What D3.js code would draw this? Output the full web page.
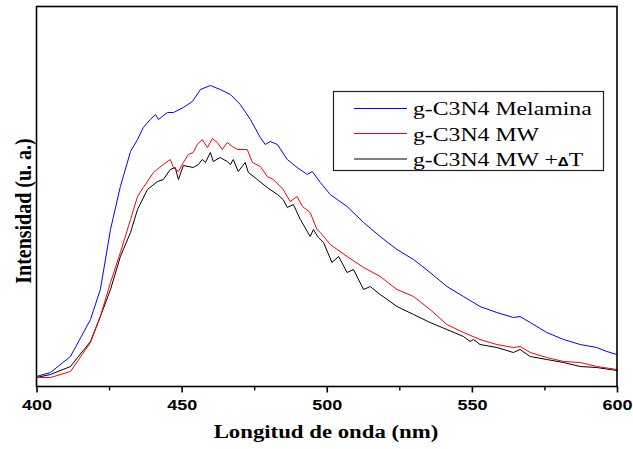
<!DOCTYPE html>
<html><head><meta charset="utf-8">
<script src="https://cdn.jsdelivr.net/npm/d3@7/dist/d3.min.js"></script>
<style>body{margin:0;background:#fff}svg{display:block}</style>
</head><body><svg id="c" width="633" height="449"></svg>
<script>
const seriesNames = ["g-C3N4 Melamina", "g-C3N4 MW", "g-C3N4 MW +"];
const seriesColors = ["#0000ff", "#ff0000", "#000000"];
const xTicks = [400, 450, 500, 550, 600];
const xMinorTicks = [425, 475, 525, 575];

const wlMelamina = [400,404.8,411.7,418.6,422.0,425.5,428.9,432.4,434.8,436.8,439.2,441.0,442.0,445.1,447.2,450.6,453.7,456.5,459.9,463.3,466.8,470.2,473.7,477.1,478.8,480.5,483.0,486.4,489.8,493.3,495.0,497.8,501.2,507.0,512.7,518.4,524.2,529.9,535.6,541.4,547.1,552.8,558.6,564.3,566.6,570.1,575.8,581.6,587.3,593.0,596.5,600];
const intMelamina = [10,14,30,67,97,157,200,235,247,259,267,272,267,274,274,279,285,297,301,297,292,282,267,249,242,245,242,227,219,212,215,204,192,180,164,150,137,127,114,100,90,80,74,69,70,64,54,47,42,39,35,32];

const wlMW = [400,404.8,411.7,418.6,422.0,425.5,428.9,432.4,434.8,436.8,440.3,443.7,446.1,447.2,448.9,450.6,452.3,454.0,455.4,457.1,458.9,460.6,462.3,464.0,465.7,467.5,469.2,472.6,474.4,477.1,479.5,481.6,485.0,487.4,489.8,491.6,494.3,496.6,497.8,501.2,507.0,512.7,518.4,524.2,529.9,535.6,541.4,547.1,552.8,558.6,564.3,566.6,570.1,575.8,581.6,587.3,593.0,600];
const intMW = [9,9,15,44,70,104,134,167,190,199,214,222,227,219,215,224,232,234,242,247,239,248,244,237,244,240,237,237,224,220,210,207,197,185,190,180,174,157,154,142,130,119,110,97,90,77,62,54,47,42,39,40,34,29,25,24,20,17];

const wlMWT = [400,404.8,411.7,418.6,422.0,425.5,428.9,432.4,434.8,438.2,441.7,443.7,446.1,447.8,448.9,450.6,454.0,455.8,457.1,458.2,459.9,460.9,463.3,465.7,466.8,467.8,469.5,471.9,473.0,476.1,479.5,483.0,485.0,486.4,488.5,490.9,494.3,495.4,497.1,498.9,501.8,504.1,507.0,509.2,512.7,515.0,518.4,524.2,529.9,535.6,541.4,547.1,549.4,550.6,552.8,558.6,564.3,566.6,570.1,575.8,581.6,587.3,593.0,600];
const intMWT = [9,12,20,45,70,97,130,154,177,197,205,207,217,219,207,221,219,222,227,224,234,225,229,225,222,227,215,224,214,207,199,192,187,179,182,167,150,157,149,144,124,130,114,117,97,100,92,80,72,64,57,50,45,47,42,39,34,37,30,27,24,20,19,16];

const series = [
  {name: seriesNames[0], color: seriesColors[0], wl: wlMelamina, val: intMelamina},
  {name: seriesNames[1], color: seriesColors[1], wl: wlMW, val: intMW},
  {name: seriesNames[2], color: seriesColors[2], wl: wlMWT, val: intMWT}
];

const SERIF = '"Liberation Serif", "Times New Roman", serif';
const SANS = '"Liberation Sans", Arial, sans-serif';

const svg = d3.select("#c");
const L = 36.5, R = 617, T = 6.5, B = 386.5;
const x = d3.scaleLinear().domain([400, 600]).range([L, R]);
const y = d3.scaleLinear().domain([0, 380]).range([B, T]);

svg.append("defs").append("clipPath").attr("id", "clip")
  .append("rect").attr("x", L).attr("y", T).attr("width", R - L).attr("height", B - T);

const line = d3.line().x(d => x(d[0])).y(d => y(d[1]));
const g = svg.append("g").attr("clip-path", "url(#clip)");
series.slice().reverse().forEach(s => {
  g.append("path")
    .datum(s.wl.map((w, i) => [w, s.val[i]]))
    .attr("d", line)
    .attr("fill", "none")
    .attr("stroke", s.color)
    .attr("stroke-width", 1)
    .attr("stroke-linejoin", "round");
});

// frame
svg.append("rect").attr("x", L).attr("y", T).attr("width", R - L).attr("height", B - T)
  .attr("fill", "none").attr("stroke", "#000").attr("stroke-width", 1.6);

// x axis
const ax = svg.append("g").attr("transform", `translate(0,${B})`)
  .call(d3.axisBottom(x).tickValues(xTicks).tickSize(6).tickPadding(7).tickFormat(d3.format("d")));
ax.select(".domain").remove();
ax.selectAll(".tick line").attr("stroke", "#000").attr("stroke-width", 1.6);
ax.selectAll(".tick text")
  .style("font-family", SANS)
  .attr("font-weight", "bold").attr("font-size", 15).attr("fill", "#000")
  .attr("transform", "scale(1.2,1)");

const axm = svg.append("g").attr("transform", `translate(0,${B})`)
  .call(d3.axisBottom(x).tickValues(xMinorTicks).tickSize(4).tickFormat(""));
axm.select(".domain").remove();
axm.selectAll(".tick line").attr("stroke", "#000").attr("stroke-width", 1.4);

// axis titles
svg.append("text")
  .style("font-family", SERIF)
  .attr("transform", "translate(326,438) scale(1.2,1)")
  .attr("text-anchor", "middle")
  .attr("font-weight", "bold").attr("font-size", 19)
  .text("Longitud de onda (nm)");

svg.append("text")
  .style("font-family", SERIF)
  .attr("transform", "translate(31,211) scale(1.2,1) rotate(-90)")
  .attr("text-anchor", "middle")
  .attr("font-weight", "bold").attr("font-size", 20)
  .text("Intensidad (u. a.)");

// legend
const leg = svg.append("g");
leg.append("rect").attr("x", 333.5).attr("y", 91.5).attr("width", 270).attr("height", 79)
  .attr("fill", "#fff").attr("stroke", "#222").attr("stroke-width", 1.2);
const rowY = [108.5, 133.5, 159];
const baseY = [115.5, 141, 166.5];
series.forEach((s, i) => {
  leg.append("line").attr("x1", 354).attr("x2", 407).attr("y1", rowY[i]).attr("y2", rowY[i])
    .attr("stroke", s.color).attr("stroke-width", 1);
  const t = leg.append("text").style("font-family", SERIF).attr("x", 413).attr("y", baseY[i])
    .attr("font-size", 19).attr("fill", "#000")
    .attr("transform", `translate(413,0) scale(1.25,1) translate(-413,0)`);
  t.append("tspan").text(s.name);
  if (i === 2) {
    t.append("tspan").style("font-family", SANS).attr("font-weight", "bold")
      .attr("font-size", 12).text("\u0394");
    t.append("tspan").text("T");
  }
});
</script></body></html>
